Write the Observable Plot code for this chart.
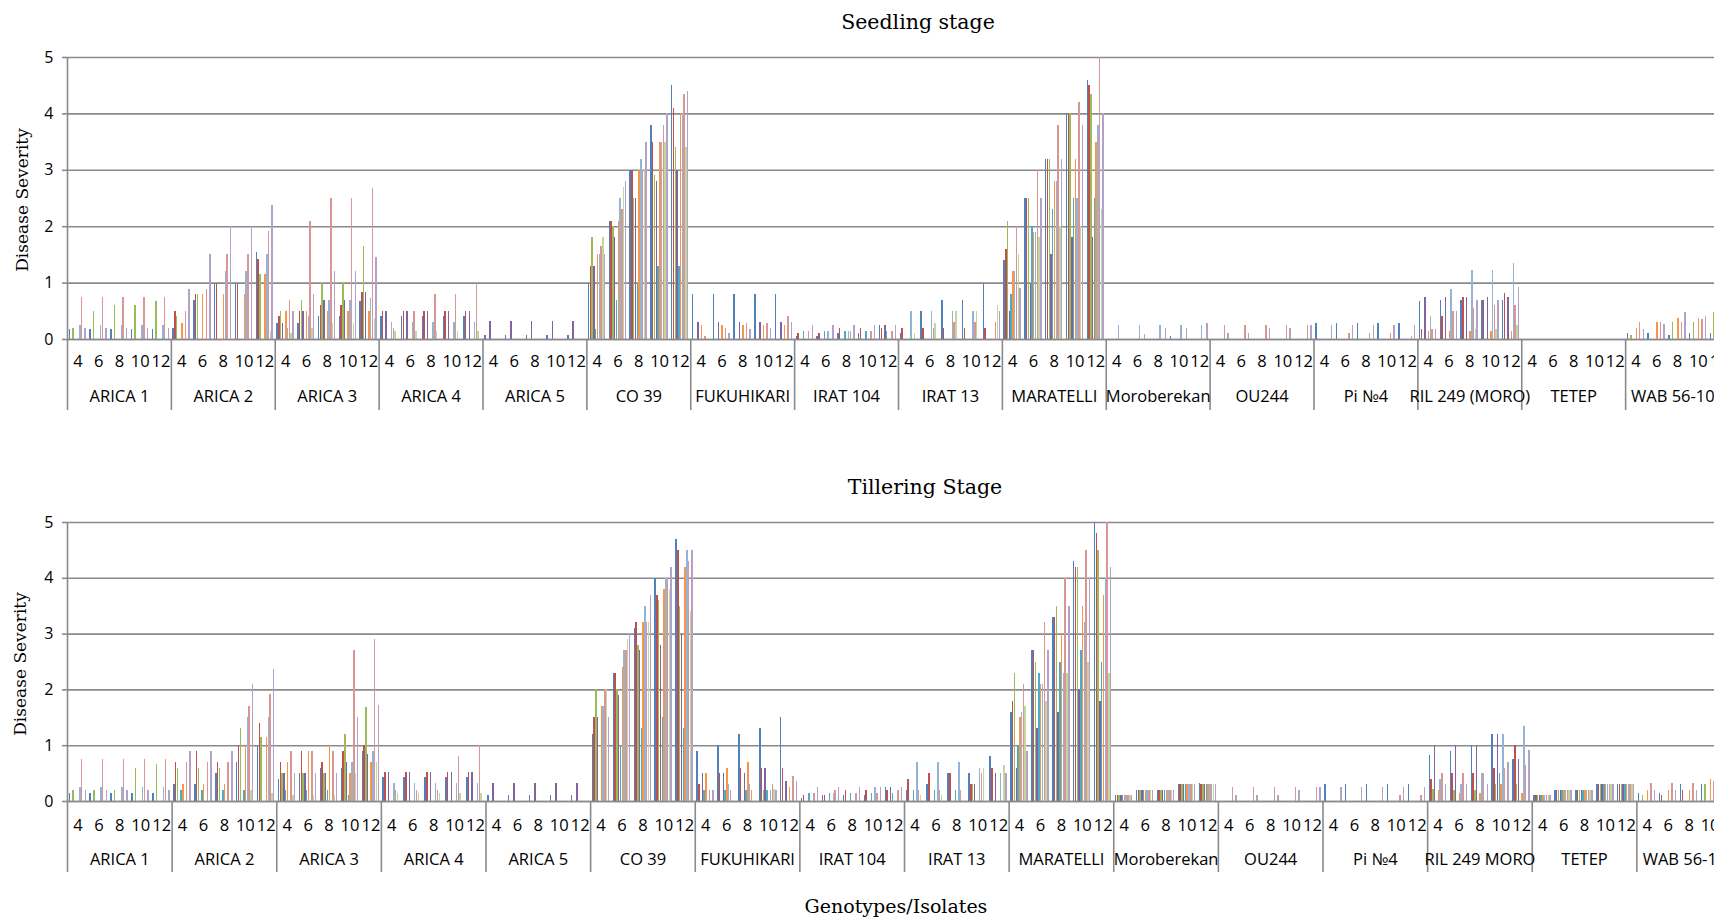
<!DOCTYPE html>
<html>
<head>
<meta charset="utf-8">
<script src="https://cdn.jsdelivr.net/npm/d3@7"></script>
<script src="https://cdn.jsdelivr.net/npm/@observablehq/plot@0.6"></script>
<style>
html,body{margin:0;padding:0;background:#fff;overflow:hidden;}
#wrap{position:relative;width:1714px;height:918px;overflow:hidden;background:#fff;}
.panel{position:absolute;left:0;width:1760px;}
.panel svg{max-width:none !important;display:block;}
.title{position:absolute;font-family:"DejaVu Serif",serif;font-size:20.5px;color:#000;white-space:nowrap;transform:translate(-50%,-50%);}
.ytitle{position:absolute;font-family:"DejaVu Serif",serif;font-size:17px;color:#000;white-space:nowrap;transform:translate(-50%,-50%) rotate(-90deg);}
</style>
</head>
<body>
<div id="wrap">
  <div class="title" style="left:918px;top:22px;">Seedling stage</div>
  <div class="ytitle" style="left:22px;top:200px;">Disease Severity</div>
  <div class="panel" id="seedling" style="top:0px;"></div>
  <div class="title" style="left:925px;top:487px;">Tillering Stage</div>
  <div class="ytitle" style="left:20px;top:664px;">Disease Severity</div>
  <div class="panel" id="tillering" style="top:465px;"></div>
  <div class="title" style="left:896px;top:906px;font-size:19px;">Genotypes/Isolates</div>
</div>
<script>
// ---------- categories ----------
const genotypesSeedling = ["ARICA 1","ARICA 2","ARICA 3","ARICA 4","ARICA 5","CO 39","FUKUHIKARI","IRAT 104","IRAT 13","MARATELLI","Moroberekan","OU244","Pi №4","RIL 249 (MORO)","TETEP","WAB 56-104"];
const genotypesTillering = ["ARICA 1","ARICA 2","ARICA 3","ARICA 4","ARICA 5","CO 39","FUKUHIKARI","IRAT 104","IRAT 13","MARATELLI","Moroberekan","OU244","Pi №4","RIL 249 MORO","TETEP","WAB 56-104"];
const times = [4, 6, 8, 10, 12];
const isolates = ["Isolate 1","Isolate 2","Isolate 3","Isolate 4","Isolate 5","Isolate 6","Isolate 7","Isolate 8","Isolate 9","Isolate 10"];
const isolateColors = ["#4F81BD","#C0504D","#9BBB59","#8064A2","#4BACC6","#F79646","#95B3D7","#D99694","#C3D69B","#B3A2C7"];
const yTicks = [0, 1, 2, 3, 4, 5];

// ---------- seedling stage: rows = times (4,6,8,10,12), columns = isolates ----------
const s_ARICA1 = [
  [.17,0,.2,0,0,0,.25,.75,0,.2],
  [.17,0,.5,0,0,0,.25,.75,0,.2],
  [.17,0,.6,0,0,0,.25,.75,0,.2],
  [.17,0,.6,0,0,0,.25,.75,0,.2],
  [.17,0,.68,0,0,0,.25,.75,0,.2]];
const s_ARICA2 = [
  [.2,.5,.4,0,0,.28,0,.5,0,.88],
  [.7,.8,.8,0,0,.8,0,.88,0,1.5],
  [1.0,1.0,0,0,0,.8,1.2,1.5,0,2.0],
  [1.0,1.0,0,0,0,.8,1.2,1.5,0,2.0],
  [1.55,1.42,1.15,0,0,1.15,1.5,1.92,.15,2.37]];
const s_ARICA3 = [
  [.28,.4,.5,.28,0,.5,.2,.7,.1,.5],
  [.28,.5,.7,.5,0,.5,.4,2.1,.2,.8],
  [.4,.6,1.0,.7,0,.5,.7,2.5,.28,1.2],
  [.4,.6,1.0,.7,0,.5,.7,2.5,.28,1.2],
  [.68,.83,1.65,.83,0,.5,.73,2.67,.38,1.45]];
const s_ARICA4 = [
  [.4,.5,0,.5,0,0,.3,.2,.15,0],
  [.4,.5,0,.5,0,0,.3,.5,.15,0],
  [.4,.5,0,.5,0,0,.3,.8,.15,0],
  [.4,.5,0,.5,0,0,.3,.8,.15,0],
  [.4,.5,0,.5,0,0,.3,1.0,.15,0]];
const s_ARICA5 = [
  [.07,0,0,.32,0,0,0,0,0,0],
  [.07,0,0,.32,0,0,0,0,0,0],
  [.07,0,0,.32,0,0,0,0,0,0],
  [.07,0,0,.32,0,0,0,0,0,0],
  [.07,0,0,.32,0,0,0,0,0,0]];
const s_CO39 = [
  [1.0,1.3,1.8,1.3,.17,1.5,1.5,1.65,1.8,1.5],
  [2.1,2.1,2.0,1.8,.7,2.1,2.5,2.3,2.7,2.8],
  [3.0,3.0,2.5,2.5,1.0,3.0,3.2,3.0,3.0,3.5],
  [3.8,3.5,2.9,2.8,1.3,3.5,3.5,3.8,3.5,4.0],
  [4.5,4.1,3.4,3.0,1.3,4.0,4.0,4.35,3.4,4.4]];
const s_FUKUHIKARI = [
  [.8,0,0,.3,0,.25,0,.05,0,0],
  [.8,0,0,.3,0,.25,0,.2,0,.1],
  [.8,0,0,.3,0,.25,0,.28,0,.17],
  [.8,0,0,.3,0,.25,0,.28,0,.2],
  [.8,0,0,.3,0,.25,0,.4,0,.3]];
const s_IRAT104 = [
  [.05,.1,0,0,.15,0,0,.15,0,.25],
  [.05,.1,0,0,.15,0,.15,0,0,.25],
  [.1,.2,0,0,.15,0,.15,.15,0,.25],
  [.1,.2,0,0,.15,0,0,.15,0,.25],
  [.25,.2,0,.25,.15,0,0,.15,0,.25]];
const s_IRAT13 = [
  [.1,.2,0,0,0,0,.5,0,.1,0],
  [.5,.2,0,0,0,0,.5,.2,.28,0],
  [.7,.2,0,0,0,0,.5,.3,.5,0],
  [.7,.2,0,0,0,0,.5,.3,.5,0],
  [1.0,.2,0,0,0,0,0,.3,.6,.5]];
const s_MARATELLI = [
  [1.4,1.6,2.1,.5,.8,1.2,1.2,2.0,1.5,.9],
  [2.5,2.5,2.5,1.0,2.0,1.9,1.9,3.0,1.8,2.5],
  [3.2,3.2,3.2,1.5,2.3,2.8,2.8,3.8,2.0,3.2],
  [4.0,4.0,4.0,1.8,2.5,3.2,2.5,4.2,2.0,3.8],
  [4.6,4.5,4.35,1.8,2.5,3.5,3.8,5.0,2.3,4.0]];
const s_Moroberekan = [
  [0,0,0,0,0,0,.25,0,0,0],
  [0,0,0,0,0,0,.25,0,0,.08],
  [0,0,0,0,0,0,.25,0,0,.2],
  [.05,0,0,0,0,0,.25,0,0,.2],
  [0,0,0,0,0,0,.25,0,0,.28]];
const s_OU244 = [
  [0,0,0,0,0,0,0,.25,0,.1],
  [0,0,0,0,0,0,0,.25,0,.1],
  [0,0,0,0,0,0,0,.25,0,.2],
  [0,0,0,0,0,0,0,.25,0,.2],
  [0,0,0,0,0,0,0,.25,0,.25]];
const s_PiNo4 = [
  [.28,0,0,0,0,0,0,0,0,.25],
  [.28,0,0,0,0,0,0,.1,0,.25],
  [.28,0,0,0,0,0,0,.1,0,.25],
  [.28,0,0,0,0,0,0,.1,0,.25],
  [.28,0,0,0,0,0,0,.05,0,.25]];
const s_RIL249 = [
  [.67,.18,0,.74,0,.15,.4,.18,0,.18],
  [.7,.4,0,.75,0,.15,.89,.5,0,.5],
  [.7,.75,0,.75,0,.15,1.23,.55,.18,.7],
  [.7,.7,0,.75,0,.15,1.23,.6,.18,.7],
  [.7,.82,0,.75,0,.15,1.35,.6,.25,.92]];
const s_TETEP = [
  [0,0,0,0,0,0,0,0,0,0],
  [0,0,0,0,0,0,0,0,0,0],
  [0,0,0,0,0,0,0,0,0,0],
  [0,0,0,0,0,0,0,0,0,0],
  [0,0,0,0,0,0,0,0,0,0]];
const s_WAB56104 = [
  [.1,0,.07,0,0,.2,0,.3,0,.18],
  [.1,0,0,0,0,.3,0,.3,0,.27],
  [.07,0,.3,0,0,.38,0,.3,0,.48],
  [.1,0,.3,0,0,.38,0,.35,0,.4],
  [.1,0,.48,0,0,.4,0,.35,0,.3]];

// ---------- tillering stage ----------
const t_ARICA1 = [
  [.15,0,.2,0,0,0,.25,.75,0,.2],
  [.15,0,.2,0,0,0,.25,.75,0,.2],
  [.15,0,.2,0,0,0,.25,.75,0,.2],
  [.15,0,.6,0,0,0,.25,.75,0,.2],
  [.15,0,.67,0,0,0,.25,.75,0,.2]];
const t_ARICA2 = [
  [.3,.7,.6,0,.2,.3,0,.7,0,.9],
  [.3,.9,.6,0,.2,.3,0,.7,0,.9],
  [.5,.7,.6,0,.2,.3,0,.7,0,.9],
  [.7,1.0,1.3,0,.2,1.0,1.5,1.7,.2,2.1],
  [1.0,1.4,1.15,0,0,1.15,1.5,1.92,.15,2.37]];
const t_ARICA3 = [
  [.4,.7,.5,.5,.2,.7,0,.9,.1,.5],
  [.5,.9,.5,.5,.2,.9,0,.9,.1,.5],
  [.6,.7,.5,.5,.2,1.0,0,.9,.1,.5],
  [.6,.9,1.2,.7,.1,.5,.7,2.7,.5,1.5],
  [.9,1.0,1.68,.85,0,.7,.9,2.9,.7,1.72]];
const t_ARICA4 = [
  [.43,.52,0,.52,0,0,.33,.2,.15,0],
  [.43,.52,0,.52,0,0,.33,.2,.15,0],
  [.43,.52,0,.52,0,0,.33,.2,.15,0],
  [.43,.52,0,.52,0,0,.33,.8,.15,0],
  [.43,.52,0,.52,0,0,.33,1.0,.15,0]];
const t_ARICA5 = [
  [.1,0,0,.33,0,0,0,0,0,0],
  [.1,0,0,.33,0,0,0,0,0,0],
  [.1,0,0,.33,0,0,0,0,0,0],
  [.1,0,0,.33,0,0,0,0,0,0],
  [.1,0,0,.33,0,0,0,0,0,0]];
const t_CO39 = [
  [1.2,1.5,2.0,1.5,0,1.7,1.7,2.0,2.0,1.5],
  [2.3,2.3,2.0,1.9,1.0,2.4,2.7,2.7,2.9,3.0],
  [3.1,3.2,2.8,2.7,1.3,3.2,3.5,3.2,3.2,3.7],
  [4.0,3.7,3.6,2.8,1.5,3.8,4.0,4.0,3.8,4.2],
  [4.7,4.5,3.5,3.0,1.3,4.2,4.5,4.3,3.4,4.5]];
const t_FUKUHIKARI = [
  [.9,.3,0,.5,.2,.5,0,.2,0,.2],
  [1.0,.5,0,.5,.2,.6,.3,.2,0,0],
  [1.2,.6,0,.5,.2,.7,.3,.2,0,0],
  [1.3,.6,.2,.6,.2,0,.2,.3,.22,.2],
  [1.5,.6,0,.35,0,.25,0,.45,0,.35]];
const t_IRAT104 = [
  [.05,.1,0,0,.15,0,0,.15,0,.25],
  [.1,.1,0,0,.15,0,.15,.2,0,.25],
  [.1,.2,0,0,.15,0,0,.15,0,.25],
  [.1,.2,0,0,.15,0,.25,.15,0,.25],
  [.25,.2,0,.25,.15,0,0,.2,0,.25]];
const t_IRAT13 = [
  [.2,.4,0,0,.2,0,.7,.2,.1,0],
  [.3,.5,0,0,.2,0,.7,.2,.1,0],
  [.5,.5,0,0,.2,0,.7,.2,0,0],
  [.5,.3,.3,.3,0,0,.6,.5,.6,0],
  [.8,.6,0,.5,0,0,.5,0,.65,.5]];
const t_MARATELLI = [
  [1.6,1.8,2.3,.6,1.0,1.5,1.6,2.1,1.7,.9],
  [2.7,2.7,2.5,1.3,2.3,2.1,2.1,3.2,1.8,2.7],
  [3.3,3.3,3.5,1.6,2.5,3.0,2.3,4.0,2.3,3.5],
  [4.3,4.2,4.2,2.0,2.7,3.5,3.2,4.5,2.5,4.0],
  [5.0,4.8,4.5,1.8,2.5,3.7,4.0,5.0,2.3,4.2]];
const t_Moroberekan = [
  [.1,.1,.1,.1,.1,.1,.1,.1,.1,.1],
  [.2,.2,.2,.2,.2,.2,.2,.2,.2,.2],
  [.2,.2,.2,.2,.2,.2,.2,.2,.2,.2],
  [.3,.3,.3,.3,.3,.3,.3,.3,.3,.3],
  [.32,.3,.3,.3,.3,.3,.3,.3,.3,.3]];
const t_OU244 = [
  [0,0,0,0,0,0,0,.25,0,.1],
  [0,0,0,0,0,0,0,.25,0,.1],
  [0,0,0,0,0,0,0,.25,0,.1],
  [0,0,0,0,0,0,0,.25,0,.2],
  [0,0,0,0,0,0,0,.25,0,.25]];
const t_PiNo4 = [
  [.3,0,0,0,0,0,0,0,0,.25],
  [.3,0,0,0,0,0,0,0,0,.25],
  [.3,0,0,0,0,0,0,0,0,.25],
  [.3,0,0,0,0,0,0,.1,0,.25],
  [.3,0,0,0,0,0,0,.1,0,.25]];
const t_RIL249 = [
  [.82,.39,.21,1.0,0,.2,.4,.5,0,.3],
  [.89,.5,.2,1.0,0,.15,.3,.5,0,.3],
  [1.0,.5,.2,1.0,0,.15,.5,.5,0,.3],
  [1.2,.6,.3,1.2,.5,.3,1.2,.6,0,.7],
  [.75,1.0,.3,.75,0,.15,1.35,.65,0,.92]];
const t_TETEP = [
  [.1,.1,.1,.1,.1,.1,.1,.1,.1,.1],
  [.2,.2,.2,.2,.2,.2,.2,.2,.2,.2],
  [.2,.2,.2,.2,.2,.2,.2,.2,.2,.2],
  [.3,.3,.3,.3,.3,.3,.3,.3,.3,.3],
  [.3,.3,.3,.3,.3,.3,.3,.3,.3,.3]];
const t_WAB56104 = [
  [.15,0,.1,0,0,.2,0,.33,0,.2],
  [.15,.1,0,0,0,.2,0,.33,0,.2],
  [.3,.2,0,0,0,.2,0,.33,0,.2],
  [.3,0,.3,0,0,.4,0,.35,0,.2],
  [.3,0,.3,0,0,.4,0,.35,0,.3]];

const seedlingValues = [s_ARICA1,s_ARICA2,s_ARICA3,s_ARICA4,s_ARICA5,s_CO39,s_FUKUHIKARI,s_IRAT104,s_IRAT13,s_MARATELLI,s_Moroberekan,s_OU244,s_PiNo4,s_RIL249,s_TETEP,s_WAB56104];
const tilleringValues = [t_ARICA1,t_ARICA2,t_ARICA3,t_ARICA4,t_ARICA5,t_CO39,t_FUKUHIKARI,t_IRAT104,t_IRAT13,t_MARATELLI,t_Moroberekan,t_OU244,t_PiNo4,t_RIL249,t_TETEP,t_WAB56104];

// ---------- chart builder ----------
const GRID = "#8a8a8a";
const SLOT_PAD = 0.075, STEP = 0.085, BAR = 0.82;
const FONT = "'Open Sans', 'Liberation Sans', Arial, sans-serif";

function buildPanel(genotypes, values, L) {
  const nT = times.length;
  const rows = [];
  genotypes.forEach((g, gi) => values[gi].forEach((r, ti) => r.forEach((v, ii) => {
    rows.push({genotype: g, time: times[ti], isolate: isolates[ii], value: v, slot: gi * nT + ti, idx: ii});
  })));
  const slots = [];
  genotypes.forEach((g, gi) => times.forEach((t, ti) => slots.push({genotype: g, time: t, center: gi * nT + ti + 0.5})));
  const groups = genotypes.map((g, gi) => ({genotype: g, center: gi * nT + nT / 2}));
  const bounds = d3.range(genotypes.length + 1).map(i => i * nT);
  const nSlots = genotypes.length * nT;

  return Plot.plot({
    width: L.width, height: L.height,
    marginLeft: L.left, marginRight: L.right, marginTop: L.top, marginBottom: L.bottom,
    x: {domain: [0, nSlots], axis: null},
    y: {domain: [0, 5], axis: null},
    color: {domain: isolates, range: isolateColors},
    style: {fontFamily: FONT, fontSize: "16px", color: "#000", background: "transparent", overflow: "visible"},
    marks: [
      Plot.ruleY(yTicks, {stroke: GRID, strokeWidth: 1.6}),
      Plot.rect(rows.filter(d => d.value > 0), {
        x1: d => d.slot + SLOT_PAD + d.idx * STEP,
        x2: d => d.slot + SLOT_PAD + d.idx * STEP + STEP * BAR,
        y1: 0, y2: "value", fill: "isolate", shapeRendering: "crispEdges"
      }),
      Plot.ruleY([0], {stroke: GRID, strokeWidth: 1.6}),
      Plot.ruleX([0], {y1: 0, y2: 5, stroke: GRID, strokeWidth: 1.6}),
      Plot.axisY({ticks: yTicks, tickFormat: d => String(d), tickSize: 5, tickPadding: 9, stroke: GRID, strokeWidth: 1.6, fill: "#000", label: null, fontSize: 16}),
      Plot.axisX({ticks: bounds, tickSize: L.sep, tickFormat: () => "", stroke: GRID, strokeWidth: 1.6, label: null}),
      Plot.text(slots, {x: "center", text: d => String(d.time), frameAnchor: "bottom", lineAnchor: "middle", dy: L.timeDy, fontSize: 16.5, fill: "#000"}),
      Plot.text(groups, {x: "center", text: "genotype", frameAnchor: "bottom", lineAnchor: "middle", dy: L.genoDy, fontSize: 16.5, fill: "#000"})
    ]
  });
}

document.getElementById("seedling").append(buildPanel(genotypesSeedling, seedlingValues,
  {width: 1760, height: 420, left: 67, right: 31, top: 57, bottom: 81, sep: 71, timeDy: 22, genoDy: 57}));
document.getElementById("tillering").append(buildPanel(genotypesTillering, tilleringValues,
  {width: 1760, height: 420, left: 67, right: 19, top: 57, bottom: 84, sep: 71, timeDy: 24, genoDy: 58}));
</script>
</body>
</html>
